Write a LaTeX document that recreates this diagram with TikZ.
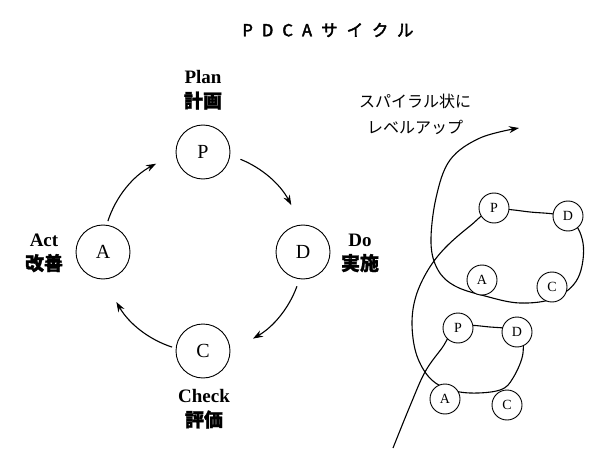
\documentclass[tikz,border=0pt]{standalone}
\usepackage{fontspec}
\setmainfont{Liberation Serif}
\newfontfamily\cjk{Noto Sans CJK JP}
\newfontfamily\cjkb[FakeBold=1.2]{Noto Sans CJK JP}
\newfontfamily\titlefont[LetterSpace=55,FakeBold=2.5]{Noto Sans CJK JP}
\usetikzlibrary{arrows.meta}
\begin{document}
\begin{tikzpicture}[x=1pt,y=1pt,
  big/.style={circle,draw,line width=0.9pt,minimum size=54pt,inner sep=0pt,fill=white,font=\fontsize{20}{20}\selectfont},
  small/.style={circle,draw,line width=0.9pt,minimum size=30pt,inner sep=0pt,fill=white,font=\fontsize{14}{14}\selectfont},
  lbl/.style={align=center,font=\bfseries\fontsize{19}{24}\selectfont},
  cyc/.style={line width=1.1pt,-{Stealth[length=10pt,width=7pt]}},
  spiral/.style={line width=1.1pt}]
\useasboundingbox (0,0) rectangle (600,448);
\node (title) at (328,418) {\titlefont\fontsize{16.5}{16.5}\selectfont PDCAサイクル};
% left cycle
\coordinate (O) at (203,196);
\node[big] (P) at (203,296) {P};
\node[big] (D) at (303,196) {D};
\node[big] (C) at (203,97) {C};
\node[big] (A) at (103,196) {A};
\node[lbl] (planl) at (203,358) {Plan\\{\cjkb 計画}};
\node[lbl] (actl) at (44,195) {Act\\{\cjkb 改善}};
\node[lbl] (dol) at (360,195) {Do\\{\cjkb 実施}};
\node[lbl] (checkl) at (204,39) {Check\\{\cjkb 評価}};
\draw[cyc] ([shift={(162:100)}]O) arc[start angle=162, end angle=118, radius=100];
\draw[cyc] ([shift={(68:100)}]O) arc[start angle=68, end angle=28, radius=100];
\draw[cyc] ([shift={(-20:100)}]O) arc[start angle=-20, end angle=-60, radius=100];
\draw[cyc] ([shift={(-108:100)}]O) arc[start angle=-108, end angle=-150, radius=100];
% spiral
\node[font=\cjk\fontsize{16}{26}\selectfont,align=center] (spl) at (415,334) {スパイラル状に\\レベルアップ};
\draw[spiral,-{Stealth[length=10pt,width=7pt]}] plot[smooth,tension=0.6] coordinates {
 (393,0) (410,42) (425,76) (442,100) (458,121) (490,121) (518,116) (523,95) (513,70)
 (500,58) (470,55) (445,60) (428,72) (416,95) (412,125) (416,152) (428,178) (445,200)
 (470,222) (493,238) (530,236) (568,230) (583,205) (578,170) (555,150) (520,145)
 (485,152) (455,162) (438,178) (431,205) (436,250) (450,288) (480,310) (519,320)};
\node[small] (uP) at (494,240) {P};
\node[small] (uD) at (568,232) {D};
\node[small] (uA) at (482,168) {A};
\node[small] (uC) at (552,161) {C};
\node[small] (lP) at (458,120) {P};
\node[small] (lD) at (517,116) {D};
\node[small] (lA) at (445,49) {A};
\node[small] (lC) at (507,43) {C};
\end{tikzpicture}
\end{document}
